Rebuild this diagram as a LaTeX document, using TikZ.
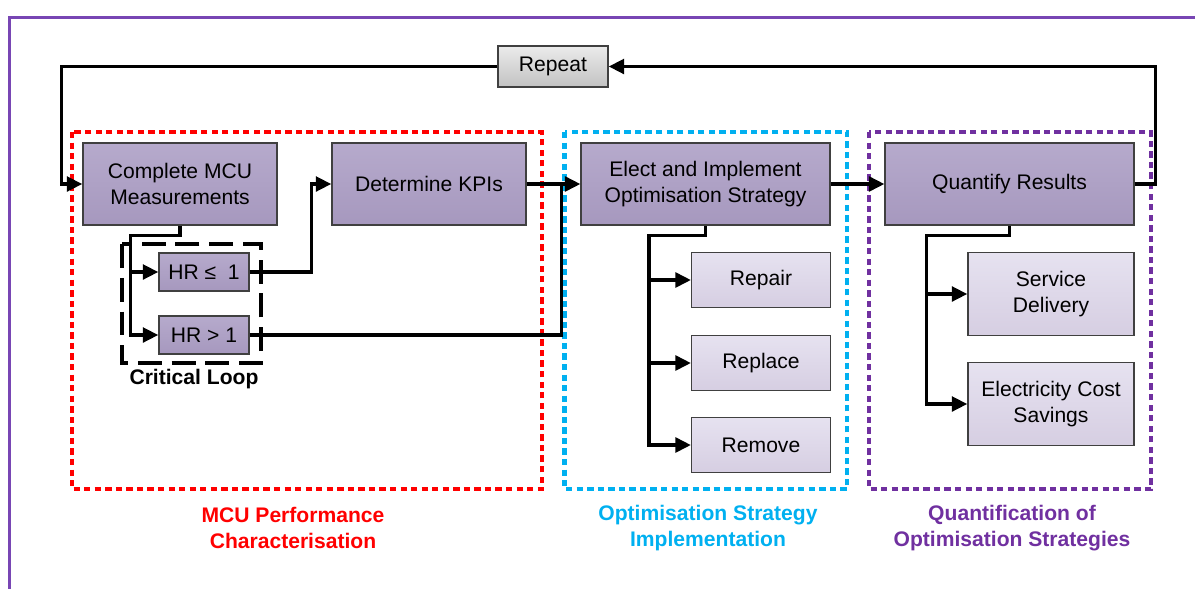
\documentclass[tikz,border=0pt]{standalone}
\usepackage{fontspec}
\setmainfont{Liberation Sans}
\usetikzlibrary{arrows.meta,calc}

\definecolor{mcured}{RGB}{255,0,0}
\definecolor{optcyan}{RGB}{0,176,240}
\definecolor{quantpurple}{RGB}{112,48,160}
\definecolor{framepurple}{RGB}{120,70,180}
\definecolor{boxtop}{RGB}{182,170,204}
\definecolor{boxbot}{RGB}{166,152,190}
\definecolor{subtop}{RGB}{230,226,240}
\definecolor{subbot}{RGB}{214,206,226}

\begin{document}
\begin{tikzpicture}[
    x=0.025cm, y=-0.025cm,
    >={Triangle[length=11pt,width=10.5pt]},
    font=\fontsize{15}{18.5}\selectfont,
    ln/.style={line width=2.3pt,black},
    arr/.style={ln,->},
    stage/.style={
        rectangle,
        draw=black!75,
        line width=1pt,
        top color=boxtop,
        bottom color=boxbot,
        minimum width=4.85cm,
        minimum height=2.05cm,
        align=center,
        inner sep=2pt
    },
    hrbox/.style={stage, minimum width=2.25cm, minimum height=0.95cm},
    option/.style={
        stage,
        top color=subtop,
        bottom color=subbot,
        minimum width=3.47cm,
        minimum height=1.37cm
    },
    outcome/.style={option, minimum width=4.15cm, minimum height=2.07cm},
    repeatbox/.style={
        stage,
        top color=black!8,
        bottom color=black!24,
        minimum width=2.75cm,
        minimum height=1.02cm
    },
    group/.style={
        draw=#1,
        line width=3pt,
        dash pattern=on 4.5pt off 3pt
    },
    grouplabel/.style={
        font=\fontsize{15}{18.5}\selectfont\bfseries,
        text=#1,
        align=center
    }
]

\useasboundingbox (0,0) rectangle (1195,588);

% Outer frame (runs off the right and bottom edges)
\draw[framepurple,line width=1.8pt] (9.5,17.5) rectangle (1210,600);

% --- Stage groups ---
\draw[group=mcured]      (72,132)  rectangle (542,489);
\draw[group=optcyan]     (564.5,132) rectangle (847,489);
\draw[group=quantpurple] (869,132) rectangle (1151,489);

% Critical loop
\draw[line width=2.2pt,dash pattern=on 17pt off 7pt] (122,244) rectangle (261,363);
\node[font=\fontsize{15}{18.5}\selectfont\bfseries] (critlbl) at (194,379) {Critical Loop};

% --- Main stages ---
\node[repeatbox] (repeat) at (553,66.5) {Repeat};
\node[stage] (mcu)   at (180,184)    {Complete MCU\\Measurements};
\node[stage] (kpi)   at (429,184)    {Determine KPIs};
\node[stage, minimum width=6.22cm] (elect) at (705.5,184) {Elect and Implement\\Optimisation Strategy};
\node[stage, minimum width=6.22cm] (quant) at (1009.5,184) {Quantify Results};

% --- Heat ratio checks ---
\node[hrbox] (hrle) at (204,272) {HR ≤\ \ 1};
\node[hrbox] (hrgt) at (204,335) {HR > 1};

% --- Strategy options ---
\node[option] (repair)  at (761,280) {Repair};
\node[option] (replace) at (761,363) {Replace};
\node[option] (remove)  at (761,445) {Remove};

% --- Quantified results ---
\node[outcome] (service) at (1051,294) {Service\\Delivery};
\node[outcome] (elec)    at (1051,404) {Electricity Cost\\Savings};

% Repeat loop
\draw[arr] (quant.east) -- ++(21,0) |- (repeat.east);
\draw[arr] (repeat.west) -- ++(-436,0) |- (mcu.west);

% Measurements into critical loop
\draw[arr] (mcu.south) -- ++(0,10) -| ($(hrgt.west)+(-28,0)$) -- (hrgt.west);
\draw[arr] ($(hrle.west)+(-28,0)$) -- (hrle.west);
\draw[arr] (hrle.east) -- ++(62,0) |- (kpi.west);
\draw[ln] (hrgt.east) -| ($(kpi.east)+(35,0)$);

% Flow between stages
\draw[arr] (kpi.east) -- (elect.west);
\draw[arr] (elect.east) -- (quant.west);

% Strategy branches
\draw[arr] (elect.south) -- ++(0,10) -| ($(remove.west)+(-42,0)$) -- (remove.west);
\draw[arr] ($(repair.west)+(-42,0)$) -- (repair.west);
\draw[arr] ($(replace.west)+(-42,0)$) -- (replace.west);

% Result branches
\draw[arr] (quant.south) -- ++(0,10) -| ($(elec.west)+(-40.5,0)$) -- (elec.west);
\draw[arr] ($(elec.west)+(-40.5,-110)$) -- (service.west);

% Group labels
\node[grouplabel=mcured]      (mculbl)   at (293,528)  {MCU Performance\\Characterisation};
\node[grouplabel=optcyan]     (optlbl)   at (708,528)  {Optimisation Strategy\\Implementation};
\node[grouplabel=quantpurple] (quantlbl) at (1012,528) {Quantification of\\Optimisation Strategies};

\end{tikzpicture}
\end{document}
